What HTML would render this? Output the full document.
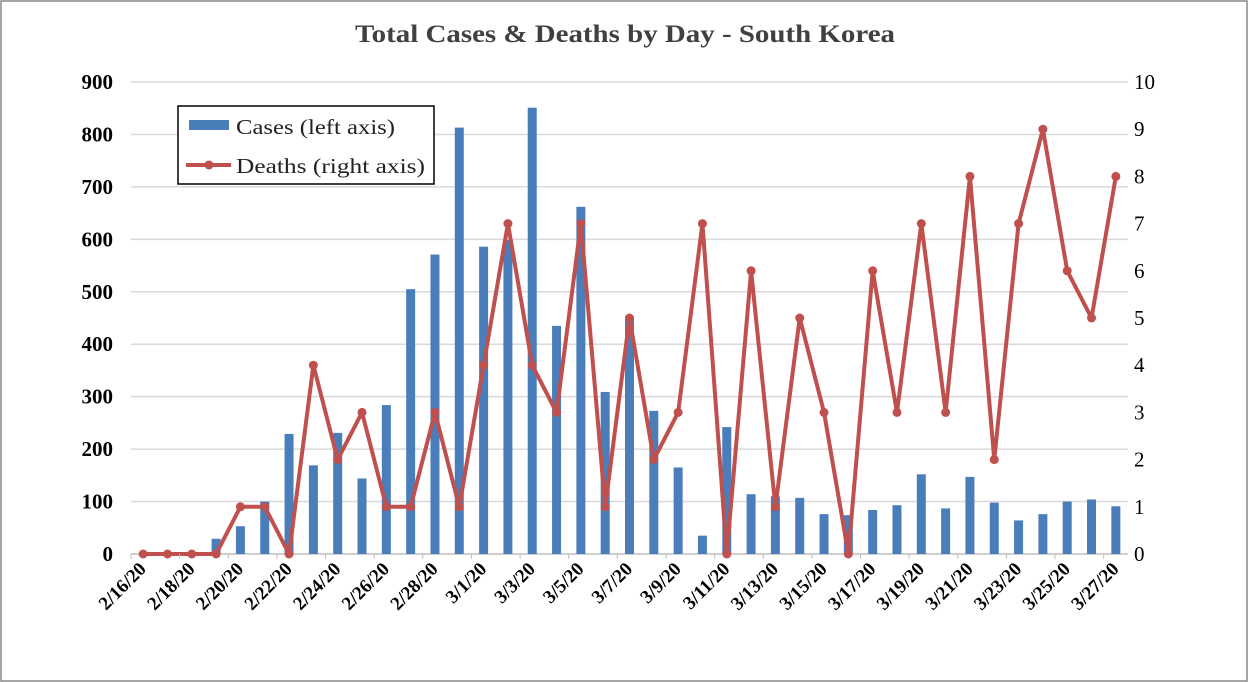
<!DOCTYPE html>
<html><head><meta charset="utf-8"><style>
body{margin:0;background:#fff}
svg{display:block;font-family:"Liberation Serif",serif}
</style></head><body>
<svg width="1248" height="682">
<rect x="1" y="1" width="1246" height="680" fill="#fff" stroke="#888" stroke-width="1.5"/>
<text x="355" y="42" textLength="540" lengthAdjust="spacingAndGlyphs" font-size="25" font-weight="bold" fill="#404040">Total Cases &amp; Deaths by Day - South Korea</text>
<g id="grid"></g><g id="bars"></g><g id="line"></g><g id="axes"></g>
<g>
<rect x="178" y="106" width="256" height="78" fill="#fff" stroke="#000" stroke-width="1.5"/>
<rect x="189" y="120" width="40" height="10" fill="#4a7ebb"/>
<text x="236" y="134" font-size="21" textLength="159" lengthAdjust="spacingAndGlyphs" fill="#222">Cases (left axis)</text>
<line x1="186" y1="165" x2="231" y2="165" stroke="#c0504d" stroke-width="4"/>
<circle cx="209" cy="165" r="4.5" fill="#c0504d"/>
<text x="236" y="173" font-size="21" textLength="189" lengthAdjust="spacingAndGlyphs" fill="#222">Deaths (right axis)</text>
</g>
</svg>
<script>
const dates=["2/16/20","2/17/20","2/18/20","2/19/20","2/20/20","2/21/20","2/22/20","2/23/20","2/24/20","2/25/20","2/26/20","2/27/20","2/28/20","2/29/20","3/1/20","3/2/20","3/3/20","3/4/20","3/5/20","3/6/20","3/7/20","3/8/20","3/9/20","3/10/20","3/11/20","3/12/20","3/13/20","3/14/20","3/15/20","3/16/20","3/17/20","3/18/20","3/19/20","3/20/20","3/21/20","3/22/20","3/23/20","3/24/20","3/25/20","3/26/20","3/27/20"];
const cases=[0,0,0,29,53,100,229,169,231,144,284,505,571,813,586,599,851,435,662,309,448,273,165,35,242,114,110,107,76,74,84,93,152,87,147,98,64,76,100,104,91];
const deaths=[0,0,0,0,1,1,0,4,2,3,1,1,3,1,4,7,4,3,7,1,5,2,3,7,0,6,1,5,3,0,6,3,7,3,8,2,7,9,6,5,8];
const leftTicks=[0,100,200,300,400,500,600,700,800,900];
const rightTicks=[0,1,2,3,4,5,6,7,8,9,10];
const NS="http://www.w3.org/2000/svg";
const X0=131,X1=1128,Y0=554,Y1=82;
const step=(X1-X0)/dates.length;
const xc=i=>X0+step*(i+0.5);
const yl=v=>Y0-(v/900)*(Y0-Y1);
const yr=v=>Y0-(v/10)*(Y0-Y1);
function mk(tag,attrs,parent){const e=document.createElementNS(NS,tag);for(const k in attrs)e.setAttribute(k,attrs[k]);document.getElementById(parent).appendChild(e);return e;}
leftTicks.forEach(t=>{
 const l=mk('line',{x1:X0,x2:X1,y1:yl(t),y2:yl(t),stroke:t?'#d9d9d9':'#bfbfbf','stroke-width':1.5},'grid');
 
 
 const tx=mk('text',{x:X0-18,y:yl(t)+7,'text-anchor':'end','font-size':21,'font-weight':'bold',fill:'#000'},'axes');
 tx.textContent=t;
 
 
});
rightTicks.forEach(t=>{
 const tx=mk('text',{x:X1+6,y:yr(t)+7,'font-size':21,fill:'#000'},'axes');
 tx.textContent=t;
 
 
});
cases.forEach((v,i)=>{
 const r=mk('rect',{x:xc(i)-4.5,y:yl(v),width:9,height:Y0-yl(v),fill:'#4a7ebb'},'bars');
 
 
});
const pl=mk('polyline',{points:deaths.map((v,i)=>xc(i)+','+yr(v)).join(' '),fill:'none',stroke:'#c0504d','stroke-width':4,'stroke-linejoin':'round'},'line');


deaths.forEach((v,i)=>{
 const c=mk('circle',{cx:xc(i),cy:yr(v),r:4.5,fill:'#c0504d'},'line');
 
 
});
for(let i=0;i<=dates.length;i+=2){
 const tk=mk('line',{x1:X0+step*i,x2:X0+step*i,y1:Y0,y2:Y0+5,stroke:'#bfbfbf'},'axes');
 
 
}
dates.forEach((d,i)=>{
 if(i%2)return;
 const x=xc(i)+4,y=Y0+16;
 const tx=mk('text',{x:x,y:y,'text-anchor':'end','font-size':19,'font-weight':'bold',fill:'#000',transform:`rotate(-45 ${x} ${y})`},'axes');
 tx.textContent=d;
 
 
});
</script>
</body></html>
